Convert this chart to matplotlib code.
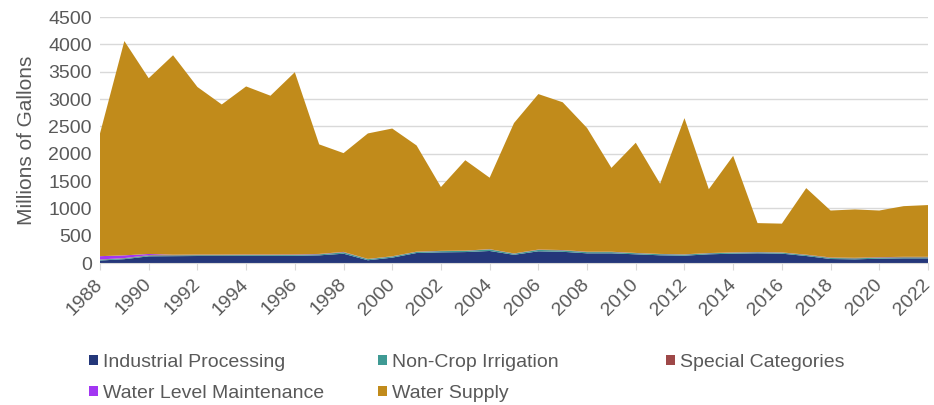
import matplotlib.pyplot as plt
import matplotlib.transforms as mtransforms
import numpy as np

years = list(range(1988, 2023))

totals = [2370, 4060, 3380, 3800, 3220, 2900, 3230, 3060, 3490, 2170,
          2010, 2370, 2460, 2150, 1390, 1880, 1560, 2560, 3090, 2940,
          2470, 1740, 2200, 1450, 2650, 1350, 1960, 730, 720, 1370,
          960, 980, 960, 1040, 1060]

industrial = [45, 70, 122, 125, 128, 128, 130, 130, 132, 140,
              170, 50, 98, 183, 195, 200, 220, 150, 214, 205,
              177, 177, 159, 141, 134, 159, 171, 177, 171, 128,
              73, 67, 79, 85, 85]

non_crop = [15, 15, 15, 15, 15, 15, 15, 15, 15, 18,
            25, 20, 20, 20, 22, 22, 28, 20, 25, 25,
            22, 22, 20, 20, 20, 18, 18, 18, 18, 18,
            18, 18, 18, 18, 18]

special = [5, 5, 8, 8, 8, 8, 8, 8, 8, 5,
           5, 3, 3, 3, 3, 3, 3, 3, 5, 5,
           5, 5, 3, 3, 3, 3, 3, 3, 3, 5,
           8, 8, 8, 8, 8]

level_maint = [60, 50, 20, 3, 3, 3, 3, 3, 3, 3,
               3, 2, 2, 2, 2, 2, 2, 2, 2, 2,
               2, 2, 2, 2, 2, 2, 2, 2, 2, 2,
               2, 2, 2, 2, 2]

labels = ["Industrial Processing", "Non-Crop Irrigation", "Special Categories",
          "Water Level Maintenance", "Water Supply"]
colors = ["#24377a", "#3f9a94", "#9e4848", "#a236f2", "#c18b1b"]


def main():
    plt.rcParams["font.family"] = ["Liberation Sans", "DejaVu Sans"]

    lower = np.array(industrial) + np.array(non_crop) + np.array(special) + np.array(level_maint)
    supply = np.array(totals) - lower

    fig = plt.figure(figsize=(9.34, 4.05), dpi=100)
    ax = fig.add_axes([100 / 934, 1 - 263 / 405, 828 / 934, 246 / 405])

    polys = ax.stackplot(years, industrial, non_crop, special, level_maint, supply,
                         colors=colors, labels=labels, linewidth=0)

    ax.set_xlim(1988, 2022)
    ax.set_ylim(0, 4500)
    ax.set_yticks(range(0, 4501, 500))
    ax.set_xticks(range(1988, 2023, 2))
    ax.grid(axis="y", color="#d9d9d9", linewidth=1)
    ax.set_axisbelow(True)

    for side in ["top", "right", "left"]:
        ax.spines[side].set_visible(False)
    ax.spines["bottom"].set_color("#d9d9d9")

    ax.tick_params(axis="y", length=0, labelsize=14, labelcolor="#595959", pad=6)
    ax.tick_params(axis="x", length=5, color="#d9d9d9", labelsize=14,
                   labelcolor="#595959", pad=2)
    shift = mtransforms.ScaledTranslation(-6 / 100, -3 / 100, fig.dpi_scale_trans)
    for lbl in ax.get_xticklabels():
        lbl.set_rotation(45)
        lbl.set_ha("right")
        lbl.set_rotation_mode("anchor")
        lbl.set_transform(lbl.get_transform() + shift)

    ax.set_ylabel("Millions of Gallons", fontsize=15, color="#595959", labelpad=9)

    # Excel-style legend: three fixed columns
    columns = [([polys[0], polys[3]], [labels[0], labels[3]], 89),
               ([polys[1], polys[4]], [labels[1], labels[4]], 378),
               ([polys[2]], [labels[2]], 666)]
    for hs, names, x0 in columns:
        fig.legend(hs, names, ncol=1, loc="upper left",
                   bbox_to_anchor=(x0 / 934, 1 - 354 / 405), frameon=False,
                   fontsize=14, labelcolor="#595959", handlelength=0.45,
                   handleheight=0.45, handletextpad=0.25, labelspacing=0.72,
                   borderpad=0, borderaxespad=0)

    fig.savefig("out.png", dpi=100)


if __name__ == "__main__":
    main()
